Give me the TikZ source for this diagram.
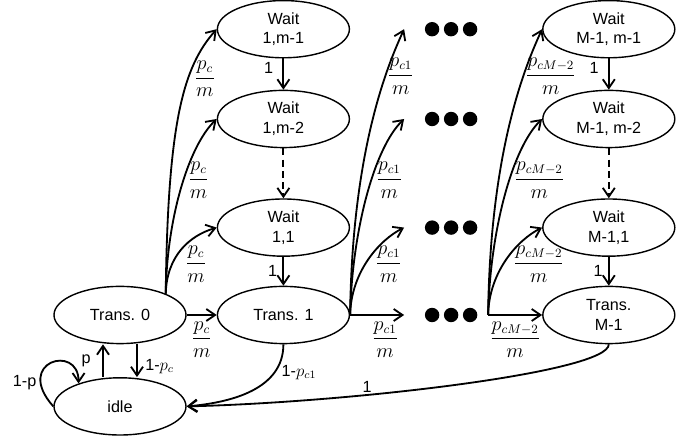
\documentclass[tikz,border=0pt]{standalone}
\usepackage{amsmath}
\usepackage{fontspec}
\setmainfont{Liberation Sans}
\usetikzlibrary{shapes,arrows.meta,positioning}

\begin{document}
\begin{tikzpicture}[
    node distance=0.75cm and 0.75cm,
    state/.style={ellipse, draw=black, line width=1pt, minimum width=3.3cm, minimum height=1.43cm, inner sep=0pt, align=center, font=\fontsize{11.5}{14}\selectfont},
    dots/.style={minimum width=2.1cm, minimum height=0.4cm, inner sep=0pt, outer sep=0pt},
    arrow/.style={-{Straight Barb[length=2.2mm, width=3mm]}, line width=1.3pt},
    prob/.style={font=\fontsize{11.5}{14}\selectfont, inner sep=1pt},
    frac/.style={font=\fontsize{13.5}{16}\selectfont, inner sep=1pt},
]

% Transmission states
\node[state] (t0) {Trans. 0};
\node[state, right=0.75cm of t0] (t1) {Trans. 1};
\node[state, below=0.82cm of t0] (idle) {idle};
\useasboundingbox (-3,-3.1) rectangle (14.225,7.875);

% First waiting column
\node[state, above=0.72cm of t1] (w11) {Wait\\1,1};
\node[state, above=1.25cm of w11] (w1m2) {Wait\\1,m-2};
\node[state, above=0.78cm of w1m2] (w1m1) {Wait\\1,m-1};

% Dots between the columns
\node[dots, right=1.35cm of t1] (d4) {};
\node[dots, right=1.35cm of w11] (d3) {};
\node[dots, right=1.35cm of w1m2] (d2) {};
\node[dots, right=1.35cm of w1m1] (d1) {};
\foreach \dotrow in {d1,d2,d3,d4} {
    \foreach \dx in {-0.35,0.125,0.6} {
        \fill ([xshift=\dx cm]\dotrow.center) circle (0.18cm);
    }
}

% Last waiting column
\node[state, right=1.35cm of d4] (tM) {Trans.\\M-1};
\node[state, right=1.35cm of d3] (wM1) {Wait\\M-1,1};
\node[state, right=1.35cm of d2] (wMm2) {Wait\\M-1, m-2};
\node[state, right=1.35cm of d1] (wMm1) {Wait\\M-1, m-1};

% Arrows - Trans. 0 to first column
\draw[arrow] (t0.25) .. controls +(0.05,4.325) and +(-0.825,-0.925) .. (w1m1.west) node[frac, pos=0.65, right=0.1cm] {$\dfrac{p_c}{m}$};
\draw[arrow] (t0.25) .. controls +(0.025,1.825) and +(-0.725,-0.7) .. (w1m2.west) node[frac, pos=0.55, right=0.06cm] {$\dfrac{p_c}{m}$};
\draw[arrow] (t0.25) .. controls +(0.025,0.95) and +(-0.675,-0.2) .. (w11.west) node[frac, pos=0.3, right=0.28cm] {$\dfrac{p_c}{m}$};
\draw[arrow] (t0) -- node[frac, below=0.1cm] {$\dfrac{p_c}{m}$} (t1);

% Arrows - down the columns
\draw[arrow] (w1m1) -- node[prob, pos=0.3, left=0.2cm] {1} (w1m2);
\draw[arrow, dash pattern=on 5pt off 3pt] (w1m2) -- (w11);
\draw[arrow] (w11) -- node[prob, left=0.1cm] {1} (t1);
\draw[arrow] (wMm1) -- node[prob, pos=0.3, left=0.2cm] {1} (wMm2);
\draw[arrow, dash pattern=on 5pt off 3pt] (wMm2) -- (wM1);
\draw[arrow] (wM1) -- node[prob, left=0.1cm] {1} (tM);

% Arrows - Trans. 1 to dots
\draw[arrow] (t1.east) .. controls +(0.05,4.1) and +(-0.425,-0.925) .. (d1.west) node[frac, pos=0.7, right=0cm] {$\dfrac{p_{c1}}{m}$};
\draw[arrow] (t1.east) .. controls +(0.05,2.1) and +(-0.75,-0.725) .. (d2.west) node[frac, pos=0.58, right=0.06cm] {$\dfrac{p_{c1}}{m}$};
\draw[arrow] (t1.east) .. controls +(0.025,1.1) and +(-0.6,-0.3) .. (d3.west) node[frac, pos=0.45, right=0.2cm] {$\dfrac{p_{c1}}{m}$};
\draw[arrow] (t1) -- node[frac, below=0.1cm, xshift=0.2cm] {$\dfrac{p_{c1}}{m}$} (d4);

% Arrows - dots to last column
\draw[arrow] (d4.east) .. controls +(0.05,4.1) and +(-0.425,-0.925) .. (wMm1.west) node[frac, pos=0.7, right=0cm] {$\dfrac{p_{cM-2}}{m}$};
\draw[arrow] (d4.east) .. controls +(0.05,2.1) and +(-0.75,-0.725) .. (wMm2.west) node[frac, pos=0.58, right=0.06cm] {$\dfrac{p_{cM-2}}{m}$};
\draw[arrow] (d4.east) .. controls +(0.025,1.1) and +(-0.6,-0.3) .. (wM1.west) node[frac, pos=0.45, right=0.2cm] {$\dfrac{p_{cM-2}}{m}$};
\draw[arrow] (d4) -- node[frac, below=0.1cm] {$\dfrac{p_{cM-2}}{m}$} (tM);

% Arrows - idle
\draw[arrow] ([xshift=-0.425cm]idle.north) -- node[prob, left=0.25cm] {p} ([xshift=-0.425cm]t0.south);
\draw[arrow] ([xshift=0.425cm]t0.south) -- node[prob, pos=0.67, right=0.15cm] {1-$p_c$} ([xshift=0.425cm]idle.north);
\draw[arrow] (idle.west) .. controls +(-1,1.125) and +(0,1) .. (idle.151) node[prob, pos=0.2, left=0.05cm] {1-p};
\draw[arrow] (t1.south) to[out=-90, in=5] node[prob, pos=0.25, right=0.12cm] {1-$p_{c1}$} (idle.east);
\draw[arrow] (tM.south) .. controls +(0,-0.7) and +(4.1,0.1) .. (idle.east) node[prob, pos=0.67, above] {1};

\end{tikzpicture}
\end{document}
